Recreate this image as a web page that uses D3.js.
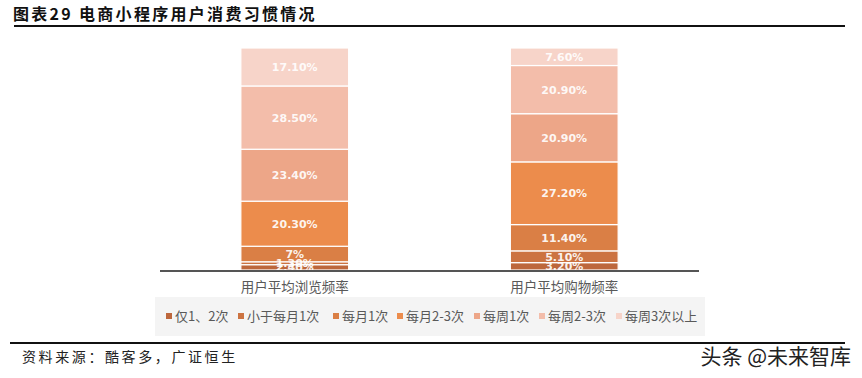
<!DOCTYPE html>
<html>
<head>
<meta charset="utf-8">
<script src="https://cdn.jsdelivr.net/npm/d3@7"></script>
<style>
  body { margin: 0; background: #fff; }
  svg { display: block; font-family: "Noto Sans CJK SC", "Noto Sans", sans-serif; }
</style>
</head>
<body>
<div id="chart"></div>
<script>
// data
var categories = ['用户平均浏览频率', '用户平均购物频率'];
var seriesNames = ['仅1、2次', '小于每月1次', '每月1次', '每月2-3次', '每周1次', '每周2-3次', '每周3次以上'];
var browseValues = [2.4, 1.3, 7, 20.3, 23.4, 28.5, 17.1];
var buyValues = [3.2, 5.1, 11.4, 27.2, 20.9, 20.9, 7.6];
var browseLabels = ['2.40%', '1.30%', '7%', '20.30%', '23.40%', '28.50%', '17.10%'];
var buyLabels = ['3.20%', '5.10%', '11.40%', '27.20%', '20.90%', '20.90%', '7.60%'];
var colors = ['#bd673c', '#cc7341', '#da7f45', '#ec8c4c', '#eda688', '#f3bdaa', '#f7d4c9'];

var W = 862, H = 378;
var svg = d3.select('#chart').append('svg')
    .attr('width', W)
    .attr('height', H);

// title + rules
svg.append('text')
    .attr('x', 13).attr('y', 20)
    .attr('font-size', 16).attr('font-weight', 'bold')
    .attr('letter-spacing', 2.3)
    .attr('fill', '#111')
    .text('图表29 电商小程序用户消费习惯情况');
svg.append('line')
    .attr('x1', 14).attr('x2', 845).attr('y1', 26).attr('y2', 26)
    .attr('stroke', '#111').attr('stroke-width', 2);
svg.append('line')
    .attr('x1', 10).attr('x2', 845).attr('y1', 343).attr('y2', 343)
    .attr('stroke', '#111').attr('stroke-width', 2);
svg.append('text')
    .attr('x', 22).attr('y', 362)
    .attr('font-size', 14).attr('fill', '#222')
    .attr('letter-spacing', 2.6)
    .text('资料来源：酷客多，广证恒生');

// table for stacking
var table = categories.map(function(c, i) {
  var row = { cat: c };
  var vals = i === 0 ? browseValues : buyValues;
  var labs = i === 0 ? browseLabels : buyLabels;
  seriesNames.forEach(function(s, j) { row[s] = vals[j]; row[s + '_lab'] = labs[j]; });
  return row;
});

var stack = d3.stack().keys(seriesNames).offset(d3.stackOffsetExpand);
var layers = stack(table);

var x = d3.scaleBand().domain(categories).range([160, 699]).paddingInner(0.6).paddingOuter(0.3);
var y = d3.scaleLinear().domain([0, 1]).range([270, 48]);

var g = svg.append('g');
layers.forEach(function(layer, j) {
  g.selectAll('rect.s' + j)
    .data(layer)
    .enter().append('rect')
    .attr('x', function(d) { return x(d.data.cat); })
    .attr('width', x.bandwidth())
    .attr('y', function(d) { return y(d[1]); })
    .attr('height', function(d) { return y(d[0]) - y(d[1]); })
    .attr('fill', colors[j])
    .attr('stroke', '#fff')
    .attr('stroke-width', 1.2);
});
layers.forEach(function(layer, j) {
  g.selectAll('text.s' + j)
    .data(layer)
    .enter().append('text')
    .attr('x', function(d) { return x(d.data.cat) + x.bandwidth() / 2; })
    .attr('y', function(d) { return (y(d[0]) + y(d[1])) / 2 + 4; })
    .attr('text-anchor', 'middle')
    .attr('font-family', 'Verdana, "DejaVu Sans", sans-serif')
    .attr('font-size', 11).attr('font-weight', 'bold')
    .attr('fill', '#fff').attr('fill-opacity', 0.92)
    .text(function(d) { return d.data[layer.key + '_lab']; });
});

// baseline
svg.append('line')
    .attr('x1', 160).attr('x2', 699).attr('y1', 271).attr('y2', 271)
    .attr('stroke', '#555').attr('stroke-width', 2);

// category axis labels
var xAxis = d3.axisBottom(x).tickSize(0).tickPadding(10);
var ax = svg.append('g').attr('transform', 'translate(0,272)').call(xAxis);
ax.select('.domain').remove();
ax.selectAll('text')
    .attr('font-size', 13.5).attr('fill', '#595959')
    .attr('font-family', '"Noto Sans CJK SC", sans-serif');

// legend
svg.append('rect')
    .attr('x', 155).attr('y', 297).attr('width', 550).attr('height', 39)
    .attr('fill', '#f4f4f4');
var legendX = [166, 238, 333, 397, 474, 539, 616];
var lg = svg.selectAll('g.leg')
    .data(seriesNames)
    .enter().append('g')
    .attr('transform', function(d, i) { return 'translate(' + legendX[i] + ',316)'; });
lg.append('rect')
    .attr('x', 0).attr('y', -3).attr('width', 6).attr('height', 6)
    .attr('fill', function(d, i) { return colors[i]; });
lg.append('text')
    .attr('x', 9).attr('y', 5)
    .attr('font-size', 13).attr('fill', '#595959')
    .text(function(d) { return d; });

// watermark
svg.append('text')
    .attr('x', 851).attr('y', 364)
    .attr('text-anchor', 'end')
    .attr('font-size', 21)
    .attr('fill', '#222')
    .attr('stroke', '#fff').attr('stroke-width', 3).attr('paint-order', 'stroke')
    .text('头条 @未来智库');
</script>
</body>
</html>
